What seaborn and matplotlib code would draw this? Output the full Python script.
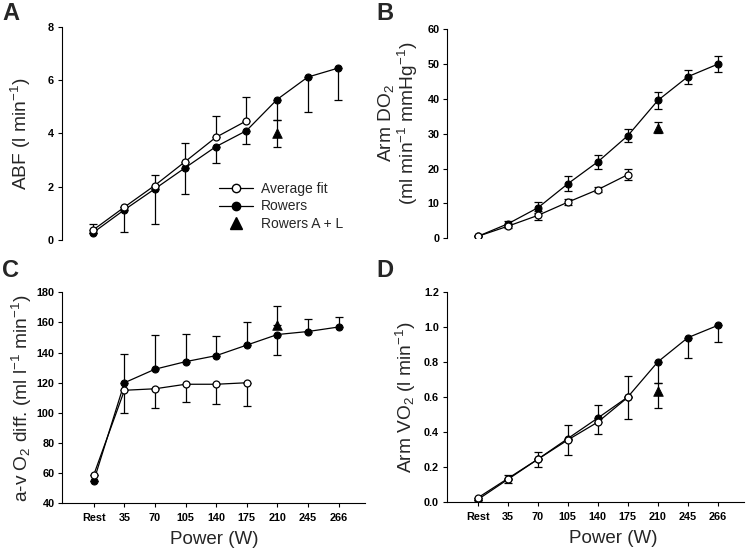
import numpy as np
import pandas as pd
import matplotlib
matplotlib.use("Agg")
import matplotlib.pyplot as plt
from matplotlib.lines import Line2D
import seaborn as sns

sns.set_theme(style="ticks")
plt.rcParams['font.family'] = ['Liberation Sans', 'DejaVu Sans']
plt.rcParams['mathtext.default'] = 'regular'

power_labels = ["Rest", "35", "70", "105", "140", "175", "210", "245", "266"]

# Panel A: ABF (l/min)
abf_fit = [0.38, 1.22, 2.04, 2.94, 3.85, 4.47]
abf_fit_err_up = [0.21, 0.0, 0.38, 0.71, 0.79, 0.88]
abf_row = [0.28, 1.12, 1.91, 2.71, 3.50, 4.10, 5.27, 6.11, 6.45]
abf_row_err_lo = [0.0, 0.81, 1.32, 1.00, 0.61, 0.51, 0.77, 1.30, 1.21]
abf_al = 4.0
abf_al_err_lo = 0.5
abf_al_err_up = 0.5

# Panel B: Arm DO2
do2_fit = [0.6, 3.5, 6.6, 10.4, 14.0, 18.3]
do2_fit_err = [0.0, 0.6, 1.2, 0.8, 0.6, 1.5]
do2_row = [0.6, 4.2, 8.8, 15.7, 22.0, 29.5, 39.6, 46.4, 50.0]
do2_row_err = [0.0, 0.7, 1.6, 2.1, 2.0, 1.8, 2.5, 2.0, 2.3]
do2_al = 31.8
do2_al_err_lo = 1.7
do2_al_err_up = 1.7

# Panel C: a-v O2 diff
avo2_fit = [59, 115, 116, 119, 119, 120]
avo2_fit_err_lo = [0, 15, 13, 12, 13, 15.5]
avo2_row = [55, 120, 129, 134, 138, 145, 152, 154, 157]
avo2_row_err_up = [0, 19, 22.4, 18.6, 13.3, 15.2, 0, 8.2, 6.9]
avo2_row_err_lo = [0, 0, 0, 0, 0, 0, 13.5, 0, 0]
avo2_al = 158.4
avo2_al_err_lo = 0.0
avo2_al_err_up = 12.8

# Panel D: Arm VO2
vo2_fit = [0.025, 0.135, 0.245, 0.355, 0.457, 0.598]
vo2_fit_err_lo = [0, 0.023, 0.044, 0.085, 0.066, 0.123]
vo2_row = [0.015, 0.13, 0.245, 0.363, 0.48, 0.60, 0.80, 0.938, 1.008]
vo2_row_err_up = [0, 0.027, 0.044, 0.077, 0.073, 0.12, 0, 0, 0]
vo2_row_err_lo = [0, 0, 0, 0, 0, 0, 0.118, 0.118, 0.093]
vo2_al = 0.634
vo2_al_err_lo = 0.095
vo2_al_err_up = 0.048

AL_INDEX = power_labels.index("210")

fig = plt.figure(figsize=(7.47, 5.5), dpi=100)
axA = fig.add_axes([0.0826, 0.5636, 0.406, 0.3878])
axB = fig.add_axes([0.5988, 0.5667, 0.397, 0.380])
axC = fig.add_axes([0.0834, 0.0849, 0.4056, 0.3836])
axD = fig.add_axes([0.5980, 0.0867, 0.398, 0.383])

LW = 0.9
MS = 5
CAP = 3


def draw_panel(ax, fit, fit_lo, fit_up, row, row_lo, row_up, al, al_lo, al_up):
    xf = np.arange(len(fit))
    xr = np.arange(len(row))
    # error bars
    ax.errorbar(xr, row, yerr=[row_lo, row_up], fmt='none', ecolor='black',
                elinewidth=LW, capsize=CAP, capthick=LW, zorder=2)
    ax.errorbar(xf, fit, yerr=[fit_lo, fit_up], fmt='none', ecolor='black',
                elinewidth=LW, capsize=CAP, capthick=LW, zorder=2)
    ax.errorbar([AL_INDEX], [al], yerr=[[al_lo], [al_up]], fmt='none', ecolor='black',
                elinewidth=LW, capsize=CAP, capthick=LW, zorder=2)
    dr = pd.DataFrame({"x": xr, "y": row})
    df = pd.DataFrame({"x": xf, "y": fit})
    sns.lineplot(data=dr, x="x", y="y", ax=ax, color='black', lw=LW, marker='o',
                 markersize=MS, markerfacecolor='black', markeredgecolor='black',
                 markeredgewidth=0.8, zorder=3)
    sns.lineplot(data=df, x="x", y="y", ax=ax, color='black', lw=LW, marker='o',
                 markersize=MS, markerfacecolor='white', markeredgecolor='black',
                 markeredgewidth=0.9, zorder=4)
    sns.scatterplot(x=[AL_INDEX], y=[al], ax=ax, marker='^', s=48, color='black',
                    edgecolor='black', zorder=5)
    ax.set_xlim(-1.03, 8.87)
    ax.set_xlabel("")
    ax.set_ylabel("")
    sns.despine(ax=ax)
    ax.tick_params(axis='both', direction='out', length=3, width=0.8, pad=2.5,
                   labelsize=7.5, colors='black')
    for sp in ax.spines.values():
        sp.set_linewidth(0.8)
        sp.set_color('black')


def zeros_like(v):
    return [0] * len(v)


draw_panel(axA, abf_fit, zeros_like(abf_fit), abf_fit_err_up,
           abf_row, abf_row_err_lo, zeros_like(abf_row),
           abf_al, abf_al_err_lo, abf_al_err_up)
draw_panel(axB, do2_fit, do2_fit_err, do2_fit_err,
           do2_row, do2_row_err, do2_row_err,
           do2_al, do2_al_err_lo, do2_al_err_up)
draw_panel(axC, avo2_fit, avo2_fit_err_lo, zeros_like(avo2_fit),
           avo2_row, avo2_row_err_lo, avo2_row_err_up,
           avo2_al, avo2_al_err_lo, avo2_al_err_up)
draw_panel(axD, vo2_fit, vo2_fit_err_lo, zeros_like(vo2_fit),
           vo2_row, vo2_row_err_lo, vo2_row_err_up,
           vo2_al, vo2_al_err_lo, vo2_al_err_up)

# y ranges and ticks
axA.set_ylim(0, 8); axA.set_yticks([0, 2, 4, 6, 8])
axB.set_ylim(0, 60); axB.set_yticks(np.arange(0, 61, 10))
axC.set_ylim(40, 180); axC.set_yticks(np.arange(40, 181, 20))
axD.set_ylim(0, 1.2); axD.set_yticks(np.arange(0, 1.21, 0.2))
axD.set_yticklabels([f"{v:.1f}" for v in np.arange(0, 1.21, 0.2)])

for ax in (axA, axB):
    ax.spines['bottom'].set_visible(False)
    ax.set_xticks([])
for ax in (axC, axD):
    ax.set_xticks(range(len(power_labels)))
    ax.set_xticklabels(power_labels)
    ax.tick_params(axis='x', pad=4)
    ax.set_xlabel("Power (W)", fontsize=13.5)
for ax in (axA, axB, axC, axD):
    for lab in ax.get_yticklabels() + ax.get_xticklabels():
        lab.set_fontweight('bold')
        lab.set_fontsize(7.8)

axC.xaxis.set_label_coords(0.5, -0.13)
axD.xaxis.set_label_coords(0.56, -0.13)

YL = 13.8
axA.set_ylabel("ABF (l min$^{-1}$)", fontsize=YL)
axA.yaxis.set_label_coords(-0.095, 0.5)
axB.set_ylabel("Arm DO$_2$\n(ml min$^{-1}$ mmHg$^{-1}$)", fontsize=YL, linespacing=1.0)
axB.yaxis.set_label_coords(-0.093, 0.55)
axC.set_ylabel("a-v O$_2$ diff. (ml l$^{-1}$ min$^{-1}$)", fontsize=YL)
axC.yaxis.set_label_coords(-0.092, 0.5)
axD.set_ylabel("Arm VO$_2$ (l min$^{-1}$)", fontsize=YL)
axD.yaxis.set_label_coords(-0.096, 0.5)

# legend in panel A
handles = [
    Line2D([], [], color='black', lw=LW, marker='o', markersize=MS + 1,
           markerfacecolor='white', markeredgecolor='black'),
    Line2D([], [], color='black', lw=LW, marker='o', markersize=MS + 1,
           markerfacecolor='black', markeredgecolor='black'),
    Line2D([], [], color='black', lw=0, marker='^', markersize=8,
           markerfacecolor='black', markeredgecolor='black'),
]
axA.legend(handles, ["Average fit", "Rowers", "Rowers A + L"], frameon=False,
           loc='upper left', bbox_to_anchor=(0.52, 0.272), fontsize=10,
           handlelength=2.4, handletextpad=0.6, labelspacing=0.25, borderpad=0,
           borderaxespad=0)

# panel letters
for letter, (x, y) in zip("ABCD", [(2, 2), (376, 2), (2, 259), (376, 259)]):
    fig.text(x / 747, 1 - y / 550, letter, fontsize=17, fontweight='bold',
             ha='left', va='top')

fig.savefig("out.png", dpi=100)
